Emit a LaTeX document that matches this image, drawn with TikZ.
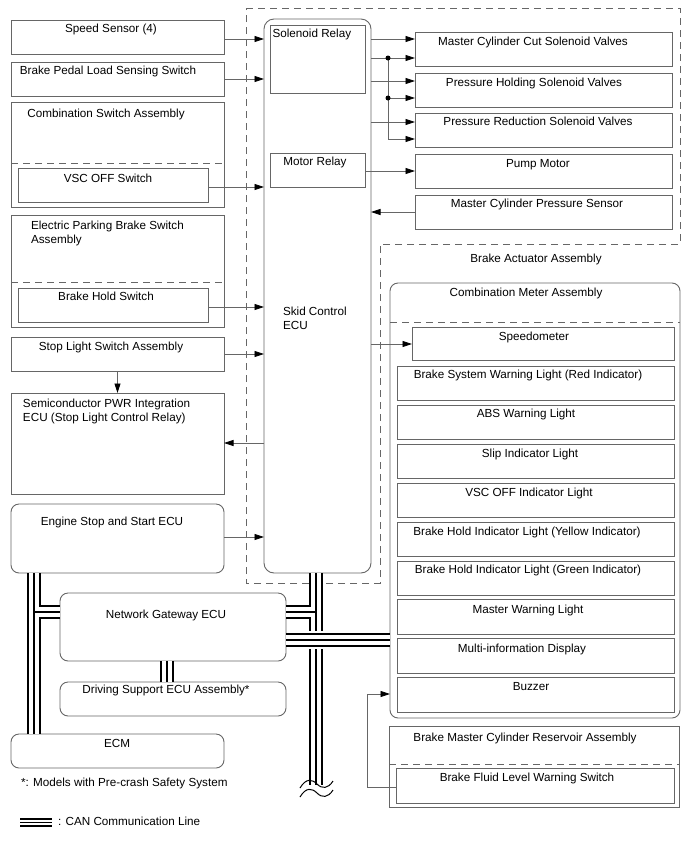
\documentclass[tikz,border=0pt]{standalone}
\usepackage{fontspec}
\setmainfont{Liberation Sans}
\usetikzlibrary{arrows.meta}
\newcommand\mkbox[6]{\node[#6, anchor=north west, minimum width={(#4-#2)*1pt}, minimum height={(#5-#3)*1pt}] (#1) at (#2,#3) {};}
\begin{document}
\begin{tikzpicture}[x=1pt,y=-1pt,
  bx/.style={draw=black!60, line width=0.9pt, fill=white, inner sep=0pt, outer sep=0pt},
  rbx/.style={bx, rounded corners=8pt},
  txt/.style={inner sep=0pt, outer sep=0pt, font=\fontsize{11.7}{14}\selectfont, text=black},
  conn/.style={draw=black!60, line width=0.8pt},
  arr/.style={conn, -{Triangle[length=9.5pt,width=6pt,color=black]}},
  dsh/.style={draw=black!60, line width=0.9pt, dash pattern=on 7pt off 5pt},
  canA/.style={line width=14pt, black},
  canB/.style={line width=10pt, white},
  canC/.style={line width=2pt, black},
  dot/.style={circle, fill=black, inner sep=0pt, minimum size=5pt}
]
\useasboundingbox (0,0) rectangle (688,852);

% brake actuator dashed outline
\draw[dsh] (246,8) -- (680,8) -- (680,244) -- (380,244) -- (380,583) -- (246,583) -- cycle;

% left column
\mkbox{ss}{11}{20}{224}{54}{bx}
\mkbox{bp}{11}{62}{224}{96}{bx}
\mkbox{csa}{11}{102}{224}{207}{bx}
\draw[dsh] (csa.west |- 0,163) -- (csa.east |- 0,163);
\mkbox{vsc}{18}{168}{208}{202}{bx}
\mkbox{epb}{11}{215}{224}{327}{bx}
\draw[dsh] (epb.west |- 0,282) -- (epb.east |- 0,282);
\mkbox{bhs}{18}{288}{208}{322}{bx}
\mkbox{sls}{11}{337}{224}{371}{bx}
\mkbox{spi}{11}{393}{224}{494}{bx}
\mkbox{ess}{11}{504}{224}{573}{rbx}
\mkbox{ngw}{60}{593}{286}{661}{rbx}
\mkbox{dse}{60}{682}{286}{716}{rbx}
\mkbox{ecm}{11}{734}{224}{768}{rbx}

% skid control ECU
\mkbox{ecu}{264}{19}{371}{573}{bx, rounded corners=10pt}
\mkbox{sr}{270}{25}{365}{93}{bx}
\mkbox{mr}{270}{153}{365}{187}{bx}

% actuator parts
\mkbox{mcc}{415}{32}{672}{66}{bx}
\mkbox{phs}{415}{73}{672}{107}{bx}
\mkbox{prs}{415}{113}{672}{147}{bx}
\mkbox{pm}{415}{154}{672}{188}{bx}
\mkbox{mps}{415}{195}{672}{229}{bx}

% combination meter
\mkbox{cma}{390}{283}{680}{718}{rbx}
\draw[dsh] (cma.west |- 0,322) -- (cma.east |- 0,322);
\mkbox{spd}{412}{327}{674}{360}{bx}
\mkbox{m1}{397}{366}{674}{400}{bx}
\mkbox{m2}{397}{405}{674}{439}{bx}
\mkbox{m3}{397}{444}{674}{478}{bx}
\mkbox{m4}{397}{483}{674}{517}{bx}
\mkbox{m5}{397}{522}{674}{556}{bx}
\mkbox{m6}{397}{561}{674}{595}{bx}
\mkbox{m7}{397}{599}{674}{634}{bx}
\mkbox{m8}{397}{638}{674}{673}{bx}
\mkbox{m9}{397}{677}{674}{712}{bx}

% reservoir
\mkbox{bmr}{389}{726}{679}{807}{bx}
\draw[dsh] (bmr.west |- 0,764) -- (bmr.east |- 0,764);
\mkbox{bfl}{396}{768}{674}{803}{bx}

% texts
\node[txt, anchor=base] (t-ss) at (111,32) {Speed Sensor (4)};
\node[txt, anchor=base] (t-bp) at (108,74) {Brake Pedal Load Sensing Switch};
\node[txt, anchor=base] (t-csa) at (106,117.5) {Combination Switch Assembly};
\node[txt, anchor=base] (t-vsc) at (108,182) {VSC OFF Switch};
\node[txt, anchor=north west, align=left] (t-epb) at (31,220.6) {Electric Parking Brake Switch\\Assembly};
\node[txt, anchor=base] (t-bhs) at (106,300) {Brake Hold Switch};
\node[txt, anchor=base] (t-sls) at (111,350) {Stop Light Switch Assembly};
\node[txt, anchor=north west, align=left] (t-spi) at (23,399) {Semiconductor PWR Integration\\ECU (Stop Light Control Relay)};
\node[txt, anchor=base] (t-ess) at (112,525) {Engine Stop and Start ECU};
\node[txt, anchor=base] (t-ngw) at (166,618) {Network Gateway ECU};
\node[txt, anchor=base] (t-dse) at (166,693) {Driving Support ECU Assembly*};
\node[txt, anchor=base] (t-ecm) at (117,747) {ECM};
\node[txt, anchor=base west] (t-fn) at (21,786) {*: Models with Pre-crash Safety System};
\node[txt, anchor=base west] (t-leg) at (58,825) {: CAN Communication Line};
\node[txt, anchor=base west] (t-sr) at (272.5,37.7) {Solenoid Relay};
\node[txt, anchor=base] (t-mr) at (315,165) {Motor Relay};
\node[txt, anchor=north west, align=left] (t-ecu) at (283,306.6) {Skid Control\\ECU};
\node[txt, anchor=base] (t-mcc) at (533,45) {Master Cylinder Cut Solenoid Valves};
\node[txt, anchor=base] (t-phs) at (534,86) {Pressure Holding Solenoid Valves};
\node[txt, anchor=base] (t-prs) at (538,125) {Pressure Reduction Solenoid Valves};
\node[txt, anchor=base] (t-pm) at (538,167) {Pump Motor};
\node[txt, anchor=base] (t-mps) at (537,207) {Master Cylinder Pressure Sensor};
\node[txt, anchor=base] (t-baa) at (536,262) {Brake Actuator Assembly};
\node[txt, anchor=base] (t-cma) at (526,296.7) {Combination Meter Assembly};
\node[txt, anchor=base] (t-spd) at (534,340) {Speedometer};
\node[txt, anchor=base] (t-m1) at (528,378) {Brake System Warning Light (Red Indicator)};
\node[txt, anchor=base] (t-m2) at (526,417) {ABS Warning Light};
\node[txt, anchor=base] (t-m3) at (530,457) {Slip Indicator Light};
\node[txt, anchor=base] (t-m4) at (529,496) {VSC OFF Indicator Light};
\node[txt, anchor=base] (t-m5) at (527,535) {Brake Hold Indicator Light (Yellow Indicator)};
\node[txt, anchor=base] (t-m6) at (528,573) {Brake Hold Indicator Light (Green Indicator)};
\node[txt, anchor=base] (t-m7) at (528,613) {Master Warning Light};
\node[txt, anchor=base] (t-m8) at (522,652) {Multi-information Display};
\node[txt, anchor=base] (t-m9) at (531,690) {Buzzer};
\node[txt, anchor=base] (t-bmr) at (525,741) {Brake Master Cylinder Reservoir Assembly};
\node[txt, anchor=base] (t-bfl) at (527,781) {Brake Fluid Level Warning Switch};

% connectors left
\draw[arr] (ss.east |- 0,39) -- (ecu.west |- 0,39);
\draw[arr] (bp.east |- 0,79) -- (ecu.west |- 0,79);
\draw[arr] (vsc.east |- 0,187) -- (ecu.west |- 0,187);
\draw[arr] (bhs.east |- 0,307) -- (ecu.west |- 0,307);
\draw[arr] (sls.east |- 0,354) -- (ecu.west |- 0,354);
\draw[arr] (sls.south) -- (spi.north);
\draw[arr] (ecu.west |- 0,443) -- (spi.east |- 0,443);
\draw[arr] (ess.east |- 0,537) -- (ecu.west |- 0,537);

% connectors right
\coordinate (j1) at (388,58);
\coordinate (j2) at (388,98);
\draw[arr] (ecu.east |- 0,39) -- (mcc.west |- 0,39);
\draw[arr] (ecu.east |- 0,58) -- (mcc.west |- 0,58);
\draw[arr] (ecu.east |- 0,81) -- (phs.west |- 0,81);
\draw[arr] (ecu.east |- 0,122) -- (prs.west |- 0,122);
\draw[arr] (j1) |- (prs.west |- 0,139);
\draw[arr] (j2) -- (phs.west |- 0,98);
\node[dot] (d1) at (j1) {};
\node[dot] (d2) at (j2) {};
\draw[arr] (mr.east |- 0,171) -- (pm.west |- 0,171);
\draw[arr] (mps.west |- 0,212) -- (ecu.east |- 0,212);
\draw[arr] (ecu.east |- 0,344) -- (spd.west |- 0,344);
\coordinate (bend) at (367,694);
\draw[arr] (bfl.west |- 0,787) -| (bend) -- (cma.west |- 0,694);

% CAN buses
\coordinate (rb1) at (ecu.south -| 316,0);
\coordinate (rb2) at (316,785);
\coordinate (rbj) at (316,612);
\coordinate (lb1) at (ess.south -| 34,0);
\coordinate (lb2) at (ecm.north -| 34,0);
\coordinate (lbj) at (34,612);
\foreach \s in {canA,canB,canC}{
  \draw[\s] (rb1) -- (rb2);
  \draw[\s] (rbj) -- (ngw.east |- rbj);
  \draw[\s] (lb1) -- (lb2);
  \draw[\s] (lbj) -- (ngw.west |- lbj);
  \draw[\s] (ngw.south -| 167,0) -- (dse.north -| 167,0);
}
\draw[white, line width=18pt] (300,640) -- (333,640);
\foreach \s in {canA,canB,canC}{
  \draw[\s] (ngw.east |- 0,640) -- (cma.west |- 0,640);
}
% break mark
\fill[white] (298,786) rectangle (336,800);
\draw[black, line width=1pt] (300,788) .. controls (306,778) and (312,779) .. (317,784) .. controls (322,789) and (328,789) .. (333,781);
\draw[black, line width=1pt] (300,797) .. controls (306,787) and (312,788) .. (317,793) .. controls (322,798) and (328,798) .. (333,790);

% legend
\draw[line width=9pt, black] (20,822.5) -- (52,822.5);
\draw[line width=5pt, white] (20,822.5) -- (52,822.5);
\draw[line width=1.6pt, black] (20,822.5) -- (52,822.5);
\end{tikzpicture}
\end{document}
